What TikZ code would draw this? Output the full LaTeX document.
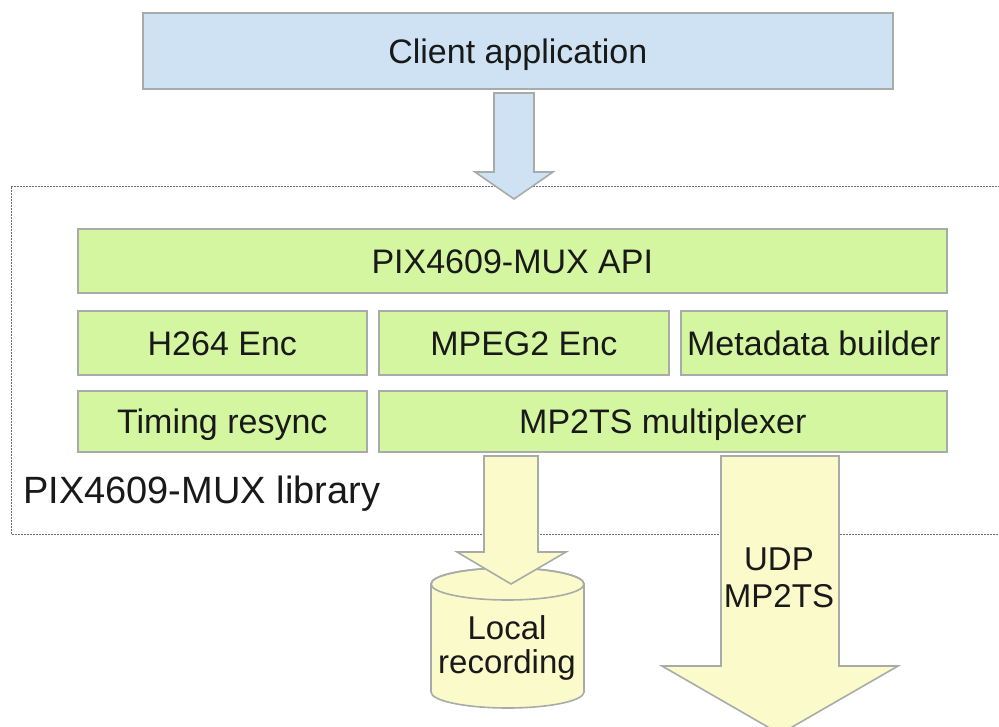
\documentclass[tikz,border=0pt]{standalone}
\usepackage{fontspec}
\setmainfont{Liberation Sans}
\usetikzlibrary{calc}
\definecolor{bfill}{RGB}{207,226,243}
\definecolor{gfill}{RGB}{213,246,160}
\definecolor{yfill}{RGB}{250,250,202}
\definecolor{edgegray}{RGB}{168,172,168}
\definecolor{framegray}{RGB}{110,110,110}
\definecolor{txt}{RGB}{25,25,25}
\begin{document}
\begin{tikzpicture}[x=1pt,y=-1pt,
  box/.style={draw=edgegray, line width=1.6pt, inner sep=0pt, anchor=north west,
    text=txt, font=\fontsize{34}{40}\selectfont, text height=24.5pt, text depth=0pt},
  gbox/.style={box, fill=gfill},
  bbox/.style={box, fill=bfill},
  blockarrow/.style={draw=edgegray, line width=1.6pt, line join=miter},
  lbl/.style={text=txt, font=\fontsize{33}{38}\selectfont, inner sep=0pt, anchor=base}
]
\useasboundingbox (0,0) rectangle (999,727);

% library frame
\draw[framegray, line width=0.9pt, dash pattern=on 1.6pt off 1.4pt]
  (1012,186) -- (11,186) -- (11,534) -- (1012,534);

% client
\node[bbox, minimum width=750pt, minimum height=76pt] (client) at (142,12) {Client application};

% arrow client -> API
\coordinate (ta) at (514,93);
\filldraw[blockarrow, fill=bfill]
  ($(ta)+(-20,0)$) -- ($(ta)+(20,0)$) -- ($(ta)+(20,79)$) -- ($(ta)+(39,79)$)
  -- ($(ta)+(0,106)$) -- ($(ta)+(-39,79)$) -- ($(ta)+(-20,79)$) -- cycle;

% library boxes
\node[gbox, minimum width=869pt, minimum height=64pt] (api) at (77,228) {PIX4609-MUX API};
\node[gbox, minimum width=289pt, minimum height=64pt] (h264) at (77,310) {H264 Enc};
\node[gbox, minimum width=290pt, minimum height=64pt] (mpeg2) at (378,310) {MPEG2 Enc};
\node[gbox, minimum width=266pt, minimum height=64pt] (meta) at (680,310) {Metadata builder};
\node[gbox, minimum width=289pt, minimum height=61pt] (timing) at (77,390) {Timing resync};
\node[gbox, minimum width=568pt, minimum height=61pt] (mux) at (378,390) {MP2TS multiplexer};

\node[text=txt, font=\fontsize{38}{44}\selectfont, inner sep=0pt, anchor=base west] (lib) at (23,503) {PIX4609-MUX library};

% local recording cylinder
\filldraw[draw=edgegray, line width=1.6pt, fill=yfill]
  (431,584) -- (431,692) arc[start angle=180, end angle=0, x radius=76.5, y radius=16]
  -- (584,584) arc[start angle=0, end angle=-180, x radius=76.5, y radius=16] -- cycle;
\draw[edgegray, line width=1.6pt] (507.5,584) ellipse[x radius=76.5, y radius=16];

% arrow mux -> local recording
\coordinate (la) at (511,456);
\filldraw[blockarrow, fill=yfill]
  ($(la)+(-27,0)$) -- ($(la)+(27,0)$) -- ($(la)+(27,96)$) -- ($(la)+(55,96)$)
  -- ($(la)+(0,128)$) -- ($(la)+(-54,96)$) -- ($(la)+(-27,96)$) -- cycle;

% big UDP arrow
\coordinate (ua) at (780,456);
\filldraw[blockarrow, fill=yfill]
  ($(ua)+(-59,0)$) -- ($(ua)+(59,0)$) -- ($(ua)+(59,210)$) -- ($(ua)+(118,210)$)
  -- ($(ua)+(0,278)$) -- ($(ua)+(-118,210)$) -- ($(ua)+(-59,210)$) -- cycle;

\node[lbl] (udp) at (779,570) {UDP};
\node[lbl] (udp2) at (779,607) {MP2TS};
\node[lbl] (loc) at (507,639) {Local};
\node[lbl] (loc2) at (507,673) {recording};
\end{tikzpicture}
\end{document}
